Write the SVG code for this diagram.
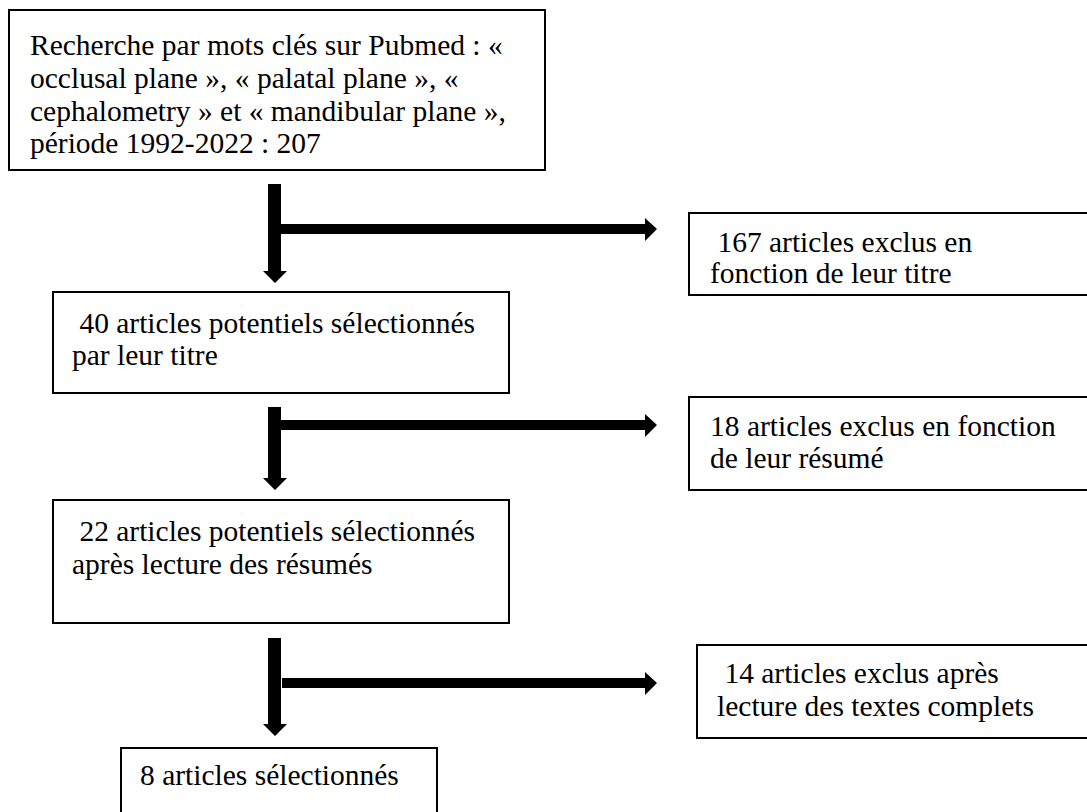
<svg xmlns="http://www.w3.org/2000/svg" width="1087" height="812" viewBox="0 0 1087 812">
<rect width="1087" height="812" fill="#fff"/>
<g font-family="Liberation Serif" font-size="29.5" fill="#000">
<g id="n1">
<rect x="9" y="10" width="536" height="160" fill="#fff" stroke="#000" stroke-width="2"/>
<text x="30" y="55">Recherche par mots clés sur Pubmed : «</text>
<text x="30" y="88">occlusal plane », « palatal plane », «</text>
<text x="30" y="121">cephalometry » et « mandibular plane »,</text>
<text x="30" y="153">période 1992-2022 : 207</text>
</g>
<g id="n2">
<rect x="689" y="213" width="400" height="82" fill="#fff" stroke="#000" stroke-width="2"/>
<text x="710" y="252" xml:space="preserve"> 167 articles exclus en</text>
<text x="710" y="283">fonction de leur titre</text>
</g>
<g id="n3">
<rect x="53" y="292" width="456" height="101" fill="#fff" stroke="#000" stroke-width="2"/>
<text x="72" y="333" xml:space="preserve"> 40 articles potentiels sélectionnés</text>
<text x="72" y="365">par leur titre</text>
</g>
<g id="n4">
<rect x="689" y="397" width="400" height="93" fill="#fff" stroke="#000" stroke-width="2"/>
<text x="710" y="436">18 articles exclus en fonction</text>
<text x="710" y="468">de leur résumé</text>
</g>
<g id="n5">
<rect x="53" y="500" width="456" height="123" fill="#fff" stroke="#000" stroke-width="2"/>
<text x="72" y="541" xml:space="preserve"> 22 articles potentiels sélectionnés</text>
<text x="72" y="574">après lecture des résumés</text>
</g>
<g id="n6">
<rect x="697" y="645" width="392" height="93" fill="#fff" stroke="#000" stroke-width="2"/>
<text x="717" y="683" xml:space="preserve"> 14 articles exclus après</text>
<text x="717" y="716">lecture des textes complets</text>
</g>
<g id="n7">
<rect x="121" y="748" width="316" height="70" fill="#fff" stroke="#000" stroke-width="2"/>
<text x="140" y="785">8 articles sélectionnés</text>
</g>
</g>
<g id="connectors" fill="#000">
<polygon points="268,184 281,184 281,271 287,271 275,283 263,271 268,271"/>
<polygon points="281,224 645,224 645,218 657,229 645,241 645,234 281,234"/>
<polygon points="268,407 281,407 281,478 287,478 275,490 263,478 268,478"/>
<polygon points="281,420 645,420 645,414 657,425 645,437 645,430 281,430"/>
<polygon points="268,638 281,638 281,724 287,724 275,736 263,724 268,724"/>
<polygon points="282,678 645,678 645,672 657,683 645,695 645,688 282,688"/>
</g>
</svg>
